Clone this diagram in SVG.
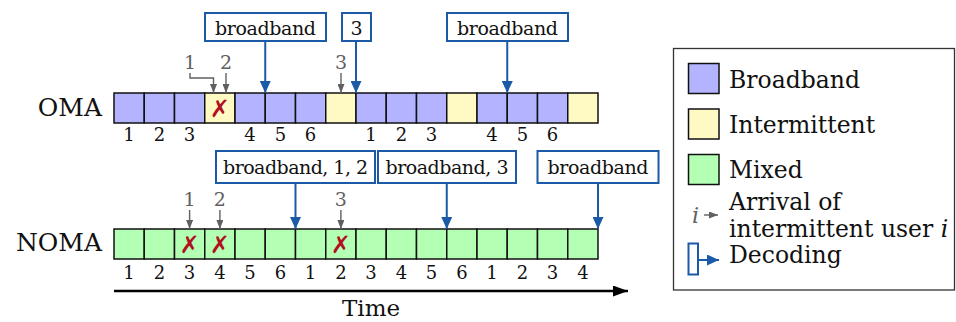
<svg xmlns="http://www.w3.org/2000/svg" width="956" height="322" viewBox="0 0 956 322">
<defs>
<marker id="bh" markerUnits="userSpaceOnUse" markerWidth="12" markerHeight="11" refX="12" refY="5.5" orient="auto"><path d="M0,0 L12,5.5 L0,11 z" fill="#1a5aa6"/></marker>
<marker id="gh" markerUnits="userSpaceOnUse" markerWidth="9" markerHeight="7" refX="9" refY="3.5" orient="auto"><path d="M0,0 L9,3.5 L0,7 z" fill="#606060"/></marker>
<marker id="kh" markerUnits="userSpaceOnUse" markerWidth="15" markerHeight="11" refX="15" refY="5.5" orient="auto"><path d="M0,0 L15,5.5 L0,11 z" fill="#000"/></marker>
</defs>
<style>
text{font-family:"DejaVu Serif","Liberation Serif",serif;fill:#111}
.b{fill:#b3b3ff;stroke:#111;stroke-width:1.5}
.i{fill:#fffac4;stroke:#111;stroke-width:1.5}
.m{fill:#b3ffb3;stroke:#111;stroke-width:1.5}
.row{font-size:25px;text-anchor:end}
.num{font-size:18px;text-anchor:middle}
.gn{font-size:19px;text-anchor:middle;fill:#606060}
.x{font-family:"DejaVu Sans",sans-serif;font-size:24px;font-weight:bold;font-style:italic;fill:#b01020;text-anchor:middle}
.box{fill:#fff;stroke:#1a5aa6;stroke-width:2}
.bt{font-size:19px;text-anchor:middle}
.ba{stroke:#1a5aa6;stroke-width:2;fill:none;marker-end:url(#bh)}
.ga{stroke:#606060;stroke-width:1.4;fill:none;marker-end:url(#gh)}
.lg{font-size:23.5px}
</style>

<g id="oma">
<text class="row" x="102" y="116">OMA</text>
<rect class="b" x="114" y="93" width="30.25" height="30"/>
<rect class="b" x="144.25" y="93" width="30.25" height="30"/>
<rect class="b" x="174.5" y="93" width="30.25" height="30"/>
<rect class="i" x="204.75" y="93" width="30.25" height="30"/>
<rect class="b" x="235" y="93" width="30.25" height="30"/>
<rect class="b" x="265.25" y="93" width="30.25" height="30"/>
<rect class="b" x="295.5" y="93" width="30.25" height="30"/>
<rect class="i" x="325.75" y="93" width="30.25" height="30"/>
<rect class="b" x="356" y="93" width="30.25" height="30"/>
<rect class="b" x="386.25" y="93" width="30.25" height="30"/>
<rect class="b" x="416.5" y="93" width="30.25" height="30"/>
<rect class="i" x="446.75" y="93" width="30.25" height="30"/>
<rect class="b" x="477" y="93" width="30.25" height="30"/>
<rect class="b" x="507.25" y="93" width="30.25" height="30"/>
<rect class="b" x="537.5" y="93" width="30.25" height="30"/>
<rect class="i" x="567.75" y="93" width="30.25" height="30"/>
<text class="x" x="219.9" y="117">✗</text>
<text class="num" x="129.1" y="141">1</text>
<text class="num" x="159.4" y="141">2</text>
<text class="num" x="189.6" y="141">3</text>
<text class="num" x="250.1" y="141">4</text>
<text class="num" x="280.4" y="141">5</text>
<text class="num" x="310.6" y="141">6</text>
<text class="num" x="371.1" y="141">1</text>
<text class="num" x="401.4" y="141">2</text>
<text class="num" x="431.6" y="141">3</text>
<text class="num" x="492.1" y="141">4</text>
<text class="num" x="522.4" y="141">5</text>
<text class="num" x="552.6" y="141">6</text>
<text class="gn" x="190" y="69">1</text>
<text class="gn" x="226" y="69">2</text>
<text class="gn" x="341" y="69">3</text>
</g>

<g id="noma">
<text class="row" x="102" y="251">NOMA</text>
<rect class="m" x="114" y="229" width="30.25" height="30"/>
<rect class="m" x="144.25" y="229" width="30.25" height="30"/>
<rect class="m" x="174.5" y="229" width="30.25" height="30"/>
<rect class="m" x="204.75" y="229" width="30.25" height="30"/>
<rect class="m" x="235" y="229" width="30.25" height="30"/>
<rect class="m" x="265.25" y="229" width="30.25" height="30"/>
<rect class="m" x="295.5" y="229" width="30.25" height="30"/>
<rect class="m" x="325.75" y="229" width="30.25" height="30"/>
<rect class="m" x="356" y="229" width="30.25" height="30"/>
<rect class="m" x="386.25" y="229" width="30.25" height="30"/>
<rect class="m" x="416.5" y="229" width="30.25" height="30"/>
<rect class="m" x="446.75" y="229" width="30.25" height="30"/>
<rect class="m" x="477" y="229" width="30.25" height="30"/>
<rect class="m" x="507.25" y="229" width="30.25" height="30"/>
<rect class="m" x="537.5" y="229" width="30.25" height="30"/>
<rect class="m" x="567.75" y="229" width="30.25" height="30"/>
<text class="x" x="189.6" y="253">✗</text>
<text class="x" x="219.9" y="253">✗</text>
<text class="x" x="340.9" y="253">✗</text>
<text class="num" x="129.1" y="279">1</text>
<text class="num" x="159.4" y="279">2</text>
<text class="num" x="189.6" y="279">3</text>
<text class="num" x="219.9" y="279">4</text>
<text class="num" x="250.1" y="279">5</text>
<text class="num" x="280.4" y="279">6</text>
<text class="num" x="310.6" y="279">1</text>
<text class="num" x="340.9" y="279">2</text>
<text class="num" x="371.1" y="279">3</text>
<text class="num" x="401.4" y="279">4</text>
<text class="num" x="431.6" y="279">5</text>
<text class="num" x="461.9" y="279">6</text>
<text class="num" x="492.1" y="279">1</text>
<text class="num" x="522.4" y="279">2</text>
<text class="num" x="552.6" y="279">3</text>
<text class="num" x="582.9" y="279">4</text>
<text class="gn" x="189.6" y="206">1</text>
<text class="gn" x="219.9" y="206">2</text>
<text class="gn" x="340.9" y="206">3</text>
</g>

<g id="dec-oma-1"><rect class="box" x="205" y="13" width="121" height="28"/><text class="bt" x="265.5" y="34.5" textLength="101">broadband</text></g>
<g id="dec-oma-2"><rect class="box" x="342" y="13" width="29" height="28"/><text class="bt" x="356.5" y="34.5">3</text></g>
<g id="dec-oma-3"><rect class="box" x="447" y="13" width="121" height="28"/><text class="bt" x="507.5" y="34.5" textLength="101">broadband</text></g>
<g id="dec-noma-1"><rect class="box" x="216" y="151" width="159" height="32"/><text class="bt" x="295.5" y="173.5" textLength="145">broadband, 1, 2</text></g>
<g id="dec-noma-2"><rect class="box" x="378" y="151" width="138" height="32"/><text class="bt" x="447" y="173.5" textLength="123">broadband, 3</text></g>
<g id="dec-noma-3"><rect class="box" x="537.5" y="151" width="121" height="32"/><text class="bt" x="598" y="173.5" textLength="101">broadband</text></g>

<g id="connectors">
<line class="ba" x1="265.25" y1="41" x2="265.25" y2="93"/>
<line class="ba" x1="356" y1="41" x2="356" y2="93"/>
<line class="ba" x1="507.25" y1="41" x2="507.25" y2="93"/>
<line class="ba" x1="295.5" y1="183" x2="295.5" y2="229"/>
<line class="ba" x1="446.75" y1="183" x2="446.75" y2="229"/>
<line class="ba" x1="598" y1="183" x2="598" y2="229"/>
<polyline class="ga" points="190,73 190,78 213.5,78 213.5,93"/>
<line class="ga" x1="226" y1="73" x2="226" y2="93"/>
<line class="ga" x1="341" y1="73" x2="341" y2="93"/>
<line class="ga" x1="189.6" y1="210" x2="189.6" y2="229"/>
<line class="ga" x1="219.9" y1="210" x2="219.9" y2="229"/>
<line class="ga" x1="340.9" y1="210" x2="340.9" y2="229"/>
<line x1="114" y1="291" x2="628" y2="291" stroke="#000" stroke-width="2.5" marker-end="url(#kh)"/>
</g>
<text x="371" y="316" font-size="23" text-anchor="middle">Time</text>

<g id="legend">
<rect x="673.5" y="48.5" width="281" height="241.5" fill="#fff" stroke="#333" stroke-width="1.3"/>
<rect class="b" x="688.5" y="63.5" width="30.5" height="30"/>
<text class="lg" x="729" y="88">Broadband</text>
<rect class="i" x="688.5" y="109" width="30.5" height="30"/>
<text class="lg" x="729" y="133">Intermittent</text>
<rect class="m" x="688.5" y="154.5" width="30.5" height="30"/>
<text class="lg" x="729" y="178">Mixed</text>
<text x="692" y="223" font-size="22" font-style="italic" style="fill:#606060">i</text>
<line class="ga" x1="704" y1="215" x2="718" y2="215"/>
<text class="lg" x="729" y="210">Arrival of</text>
<text class="lg" x="729" y="237">intermittent user <tspan font-style="italic">i</tspan></text>
<rect x="688.5" y="243.5" width="9.5" height="31" fill="none" stroke="#1a5aa6" stroke-width="2"/>
<line class="ba" x1="698" y1="260" x2="719" y2="260"/>
<text class="lg" x="729" y="263">Decoding</text>
</g>
</svg>
